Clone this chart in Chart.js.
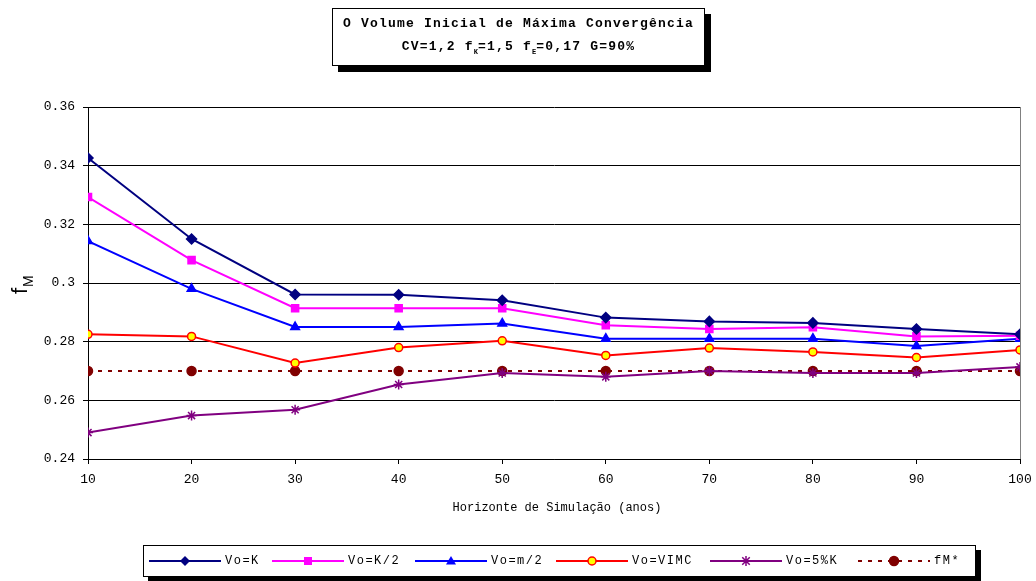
<!DOCTYPE html>
<html>
<head>
<meta charset="utf-8">
<script src="https://cdn.jsdelivr.net/npm/chart.js@4/dist/chart.umd.min.js"></script>
<style>
  body { margin:0; background:#fff; }
  #wrap { position:relative; width:1036px; height:581px; }
  #titlebox {
    position:absolute; left:332px; top:8px; width:371px; height:53px;
    border:1px solid #000; box-shadow:6px 6px 0 #000; background:#fff;
    font-family:"Liberation Mono", monospace; font-weight:bold; font-size:13px;
    letter-spacing:1.2px; text-align:center; line-height:23px; padding-top:3px;
    white-space:nowrap; box-sizing:content-box;
  }
  #titlebox sub { font-size:7px; letter-spacing:0; }
</style>
</head>
<body>
<div id="wrap">
  <canvas id="myChart" width="1036" height="581"></canvas>
  <div id="titlebox">O Volume Inicial de Máxima Convergência<br>CV=1,2 f<sub>K</sub>=1,5 f<sub>E</sub>=0,17 G=90%</div>
</div>
<script>
// horizonte de simulação (anos)
const anos = [10, 20, 30, 40, 50, 60, 70, 80, 90, 100]

const voK    = [0.3426, 0.3150, 0.2961, 0.2960, 0.2941, 0.2882, 0.2869, 0.2864, 0.2843, 0.2825]
const voK2   = [0.3293, 0.3078, 0.2914, 0.2914, 0.2914, 0.2856, 0.2843, 0.2849, 0.2818, 0.2820]
const voM2   = [0.3143, 0.2980, 0.2850, 0.2850, 0.2862, 0.2810, 0.2810, 0.2810, 0.2785, 0.2810]
const voVIMC = [0.2825, 0.2818, 0.2727, 0.2780, 0.2803, 0.2753, 0.2778, 0.2765, 0.2746, 0.2772]
const vo5K   = [0.2490, 0.2548, 0.2568, 0.2654, 0.2693, 0.2680, 0.2700, 0.2693, 0.2693, 0.2714]
const fMstar = [0.2700, 0.2700, 0.2700, 0.2700, 0.2700, 0.2700, 0.2700, 0.2700, 0.2700, 0.2700]

const yTicks = [0.24, 0.26, 0.28, 0.3, 0.32, 0.34, 0.36]

function pts(arr){ return arr.map((v,i)=>({x:anos[i], y:v})) }

const FONT = '"Liberation Mono", monospace'

function drawMarker(ctx, style, x, y, r, fill, stroke){
  ctx.save()
  ctx.fillStyle = fill; ctx.strokeStyle = stroke; ctx.lineWidth = 1.5
  ctx.beginPath()
  if(style=='rectRot'){
    ctx.moveTo(x, y-r); ctx.lineTo(x+r, y); ctx.lineTo(x, y+r); ctx.lineTo(x-r, y); ctx.closePath(); ctx.fill()
  } else if(style=='rect'){
    ctx.rect(x-r*0.8, y-r*0.8, 1.6*r, 1.6*r); ctx.fill()
  } else if(style=='triangle'){
    ctx.moveTo(x, y-r); ctx.lineTo(x+r, y+r*0.7); ctx.lineTo(x-r, y+r*0.7); ctx.closePath(); ctx.fill()
  } else if(style=='circle'){
    ctx.arc(x, y, r, 0, Math.PI*2); ctx.fill(); ctx.stroke()
  } else if(style=='star'){
    const d = r*0.75
    ctx.moveTo(x-d, y-d); ctx.lineTo(x+d, y+d)
    ctx.moveTo(x+d, y-d); ctx.lineTo(x-d, y+d)
    ctx.moveTo(x, y-r); ctx.lineTo(x, y+r)
    ctx.stroke()
  }
  ctx.restore()
}

// caixa de legenda, títulos dos eixos
const extras = {
  id: 'extras',
  afterDraw(chart){
    const ctx = chart.ctx
    const ca = chart.chartArea
    ctx.save()
    // borda direita cinza
    ctx.strokeStyle = '#808080'; ctx.lineWidth = 1
    ctx.beginPath(); ctx.moveTo(ca.right+0.5, ca.top); ctx.lineTo(ca.right+0.5, ca.bottom); ctx.stroke()

    // título eixo x
    ctx.fillStyle = '#000'
    ctx.font = '12px ' + FONT
    ctx.textAlign = 'center'; ctx.textBaseline = 'middle'
    ctx.fillText('Horizonte de Simulação (anos)', 557, 508)

    // título eixo y: f com M subscrito
    ctx.translate(25, 284); ctx.rotate(-Math.PI/2)
    ctx.textBaseline = 'alphabetic'
    ctx.font = '22px "Liberation Sans", Arial, sans-serif'
    ctx.textAlign = 'left'
    ctx.fillText('f', -10, 2)
    ctx.font = '14px "Liberation Sans", Arial, sans-serif'
    ctx.fillText('M', -3, 8)
    ctx.restore()

    // legenda
    ctx.save()
    ctx.fillStyle = '#000'
    ctx.fillRect(148, 550, 833, 32)
    ctx.fillStyle = '#fff'
    ctx.fillRect(143, 545, 833, 32)
    ctx.strokeStyle = '#000'; ctx.lineWidth = 1
    ctx.strokeRect(143.5, 545.5, 832, 31)
    const starts = [149, 272, 415, 556, 710, 858]
    const ly = 561
    chart.data.datasets.forEach((ds, i) => {
      const x0 = starts[i]
      ctx.save()
      ctx.strokeStyle = ds.borderColor; ctx.lineWidth = ds.borderWidth
      if(ds.borderDash) ctx.setLineDash(ds.borderDash)
      ctx.beginPath(); ctx.moveTo(x0, ly); ctx.lineTo(x0+72, ly); ctx.stroke()
      ctx.restore()
      drawMarker(ctx, ds.pointStyle, x0+36, ly, ds.pointRadius, ds.pointBackgroundColor, ds.pointBorderColor)
      ctx.fillStyle = '#000'
      ctx.font = '12px ' + FONT
      ctx.letterSpacing = '1.5px'
      ctx.textAlign = 'left'; ctx.textBaseline = 'middle'
      ctx.fillText(ds.label, x0+76, ly)
    })
    ctx.restore()
  }
}

function serie(label, data, color, style, radius, fill){
  return {
    label: label,
    data: pts(data),
    borderColor: color,
    borderWidth: 2,
    pointStyle: style,
    pointRadius: radius,
    pointHoverRadius: radius,
    pointBackgroundColor: fill || color,
    pointBorderColor: color,
    pointBorderWidth: 1.5,
    tension: 0
  }
}

const datasets = [
  serie('Vo=K', voK, '#000080', 'rectRot', 5),
  serie('Vo=K/2', voK2, '#FF00FF', 'rect', 5),
  serie('Vo=m/2', voM2, '#0000FF', 'triangle', 5),
  serie('Vo=VIMC', voVIMC, '#FF0000', 'circle', 4, '#FFFF00'),
  serie('Vo=5%K', vo5K, '#800080', 'star', 5),
  Object.assign(serie('fM*', fMstar, '#800000', 'circle', 4.5), { borderDash: [4, 6] })
]

const chart = new Chart(
  document.getElementById('myChart'),
  {
    type: 'line',
    data: { datasets: datasets },
    options: {
      responsive: false,
      animation: false,
      layout: { padding: { top: 107, right: 16, bottom: 0, left: 0 } },
      plugins: { legend: { display: false }, tooltip: { enabled: false } },
      scales: {
        x: {
          type: 'linear', min: 10, max: 100,
          afterFit(s){ s.height = 122; s.paddingLeft = 0; s.paddingRight = 0 },
          ticks: { stepSize: 10, color: '#000', font: { family: FONT, size: 13 }, padding: 8 },
          grid: { drawOnChartArea: false, color: '#000', tickLength: 5 },
          border: { color: '#000', width: 1 }
        },
        y: {
          min: 0.24, max: 0.36,
          afterFit(s){ s.width = 88; s.paddingTop = 0; s.paddingBottom = 0 },
          afterBuildTicks(s){ s.ticks = yTicks.map(v => ({ value: v })) },
          ticks: {
            color: '#000', font: { family: FONT, size: 13 }, padding: 8,
            callback: v => String(parseFloat(v.toFixed(2)))
          },
          grid: { color: '#000', lineWidth: 1, tickLength: 5 },
          border: { color: '#000', width: 1 }
        }
      }
    },
    plugins: [extras]
  }
)
</script>
</body>
</html>
